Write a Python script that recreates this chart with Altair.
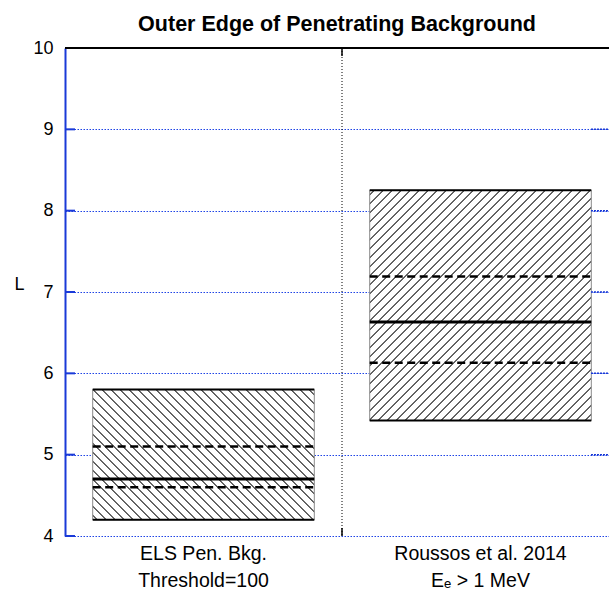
import math
import altair as alt
import pandas as pd

# ---- data ----
categories = ["ELS Pen. Bkg.\nThreshold=100", "Roussos et al. 2014\nEₑ > 1 MeV"]
box_low = [4.2, 5.42]
box_high = [5.8, 8.25]
q_low = [4.6, 6.13]
median = [4.7, 6.63]
q_high = [5.1, 7.19]
hatch_dir = ["back", "forward"]
y_ticks = [4, 5, 6, 7, 8, 9, 10]
inner_ticks = [5, 6, 7, 8, 9]

# ---- layout / style ----
W, H = 544, 488
UNIT = 277           # pixels per category slot
BOX_FRAC = 0.8
Y0, Y1 = 4, 10
FONT = "Liberation Sans"
BLUE = "#1a3ad8"
GRID_BLUE = "#1f44e6"

df = pd.DataFrame({
    "cat": categories,
    "idx": list(range(len(categories))),
    "lo": box_low,
    "hi": box_high,
    "q1": q_low,
    "med": median,
    "q3": q_high,
    "hatch": hatch_dir,
})
tick_df = pd.DataFrame({"v": y_ticks})
inner_df = pd.DataFrame({"v": inner_ticks})

xscale = alt.Scale(domain=[0, len(categories)], range=[0, UNIT * len(categories)], nice=False)
yscale = alt.Scale(domain=[Y0, Y1], nice=False, zero=False)


def hatch_gradient(lo, hi, direction):
    w = BOX_FRAC * UNIT
    h = (hi - lo) / (Y1 - Y0) * H
    f = (w + h) / (w * w + h * h)
    if direction == "back":
        x1, y1, x2, y2 = 0, 1, w * f, 1 - h * f
    else:
        x1, y1, x2, y2 = 0, 0, w * f, h * f
    L = (w + h) / math.sqrt(2)
    period = 9 / math.sqrt(2)
    hw, core = 0.85, 0.25
    gray, white = "#454545", "#ffffff"
    stops = [(0.0, white)]
    c = period * 0.5
    while c + hw < L:
        for o, col in ((c - hw, white), (c - core, gray), (c + core, gray), (c + hw, white)):
            stops.append((o / L, col))
        c += period
    stops.append((1.0, white))
    return alt.LinearGradient(
        gradient="linear",
        x1=x1, y1=y1, x2=x2, y2=y2,
        stops=[alt.GradientStop(offset=o, color=col) for o, col in stops],
    )


base = alt.Chart(df).transform_calculate(
    x0=f"datum.idx + {(1 - BOX_FRAC) / 2}",
    x1=f"datum.idx + {1 - (1 - BOX_FRAC) / 2}",
    xc="datum.idx + 0.5",
)

x_axis = alt.Axis(domain=True, domainColor="black", domainWidth=2, ticks=False,
                  labels=False, grid=False, title=None)
y_axis = alt.Axis(values=y_ticks, domain=True, domainColor=BLUE, domainWidth=2,
                  ticks=False, labelPadding=12, labelFontSize=18,
                  labelFont=FONT, labelColor="black", grid=True, gridColor=GRID_BLUE,
                  gridDash=[1.5, 1.5], gridWidth=1.2, gridOpacity=1, title="L",
                  titleAngle=0, titleFontSize=18, titleFont=FONT,
                  titleFontWeight="normal", titleColor="black", titleX=-46,
                  titleY=236, titleAlign="center", titleBaseline="middle")

layers = []

# axis carrier layer (invisible ticks at the axis values)
layers.append(
    alt.Chart(tick_df).mark_tick(opacity=0).encode(
        y=alt.Y("v:Q", scale=yscale, axis=y_axis),
    )
)

# boxes with hatch fill
for i, cat in enumerate(categories):
    layers.append(
        base.transform_filter(alt.datum.cat == cat)
        .mark_bar(fill=hatch_gradient(box_low[i], box_high[i], hatch_dir[i]),
                  stroke="#8a8a8a", strokeWidth=1)
        .encode(
            x=alt.X("x0:Q", scale=xscale, axis=x_axis if i == 0 else None),
            x2="x1:Q",
            y=alt.Y("lo:Q", scale=yscale, axis=None),
            y2="hi:Q",
        )
    )


def hline(field, width, dash=None):
    kw = dict(color="black", strokeWidth=width)
    if dash:
        kw["strokeDash"] = dash
    return base.mark_rule(**kw).encode(
        x=alt.X("x0:Q", scale=xscale, axis=None),
        x2="x1:Q",
        y=alt.Y(f"{field}:Q", scale=yscale, axis=None),
    )


layers += [
    hline("lo", 2),
    hline("hi", 2),
    hline("q1", 2.5, [8, 4.5]),
    hline("q3", 2.5, [8, 4.5]),
    hline("med", 3),
]

# divider between categories
divider = base.transform_filter(alt.datum.idx >= 1)
layers.append(
    divider.mark_rule(color="black", strokeWidth=1, strokeDash=[1, 2]).encode(
        x=alt.X("idx:Q", scale=xscale, axis=None), y=alt.value(0), y2=alt.value(H))
)
layers.append(
    divider.mark_rule(color="black", strokeWidth=1.5).encode(
        x=alt.X("idx:Q", scale=xscale, axis=None), y=alt.value(0), y2=alt.value(8))
)
layers.append(
    divider.mark_rule(color="black", strokeWidth=1.5).encode(
        x=alt.X("idx:Q", scale=xscale, axis=None), y=alt.value(H - 8), y2=alt.value(H))
)

# category labels
layers.append(
    base.mark_text(font=FONT, fontSize=19.5, color="black", baseline="alphabetic",
                   align="center", lineBreak="\n", lineHeight=27).encode(
        x=alt.X("xc:Q", scale=xscale, axis=None), y=alt.value(H + 24), text="cat:N")
)

# inward blue ticks on left axis
layers.append(
    alt.Chart(tick_df).mark_rule(color=BLUE, strokeWidth=2).encode(
        y=alt.Y("v:Q", scale=yscale, axis=None), x=alt.value(0), x2=alt.value(10))
)
# right-side ticks
layers.append(
    alt.Chart(inner_df).mark_rule(color=BLUE, strokeWidth=1.5, strokeDash=[2, 1]).encode(
        y=alt.Y("v:Q", scale=yscale, axis=None), x=alt.value(W - 18), x2=alt.value(W))
)
# top frame line
layers.append(
    alt.Chart(tick_df).mark_rule(color="black", strokeWidth=2).encode(
        y=alt.value(0), x=alt.value(0), x2=alt.value(W))
)

chart = alt.layer(*layers).properties(
    width=W,
    height=H,
    background="white",
    title=alt.TitleParams("Outer Edge of Penetrating Background", font=FONT,
                          fontSize=21.5, fontWeight="bold", color="black",
                          anchor="middle", frame="group", offset=4),
    autosize=alt.AutoSizeParams(type="none"),
    padding={"left": 65, "top": 48, "right": 0, "bottom": 57},
).resolve_axis(y="independent").configure_view(stroke=None)

chart.save("out.html", embed_options={"renderer": "svg", "actions": False})
